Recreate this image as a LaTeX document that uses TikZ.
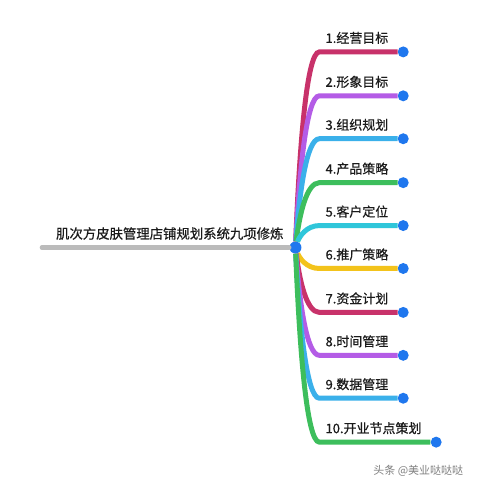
\documentclass[tikz,border=0pt]{standalone}
\usepackage{fontspec}
\newfontfamily\cjk[FakeBold=0.6]{Noto Sans CJK SC}
\newfontfamily\cjklight{Noto Sans CJK SC}
\definecolor{crim}{HTML}{C8326A}
\definecolor{violet}{HTML}{B45CE6}
\definecolor{sky}{HTML}{3AB0EA}
\definecolor{leafgreen}{HTML}{3DBE5C}
\definecolor{aqua}{HTML}{2FC6DA}
\definecolor{gold}{HTML}{F3C31B}
\definecolor{dotblue}{HTML}{1F77EE}
\definecolor{stem}{HTML}{BBBBBB}
\definecolor{ink}{HTML}{1A1A1A}

\begin{document}
\begin{tikzpicture}[x=1pt,y=-1pt,
                   branch/.style={line width=5pt,line cap=butt},
                   enddot/.style={circle,fill=dotblue,inner sep=0pt,minimum size=11pt},
                   leaf/.style={anchor=west,inner sep=0pt,text=ink,
                   font=\cjk\fontsize{13}{15}\selectfont}]
  \fill[white] (0,0) rectangle (480,480);
  \node[enddot,minimum size=12pt] (root) at (296,248) {};
  \coordinate (tail) at (42,248);
  \node[leaf,font=\cjk\fontsize{13.4}{15}\selectfont] (title) at (56,234) {肌次方皮肤管理店铺规划系统九项修炼};
  \draw[branch,stem,line width=4.5pt,line cap=round] (tail) -- (root);
  \foreach \i/\y/\col/\txt/\x in {1/52/crim/经营目标/404, 2/96/violet/形象目标/404,
      3/139/sky/组织规划/404, 4/183/leafgreen/产品策略/404, 5/226/aqua/客户定位/404,
      6/269/gold/推广策略/404, 7/313/crim/资金计划/404, 8/356/violet/时间管理/404,
      9/399/sky/数据管理/404, 10/443/leafgreen/开业节点策划/437}{
    \coordinate (c\i) at (320,\y);
    \node[enddot] (b\i) at (\x,\y) {};
    \node[leaf] (l\i) at (326,\y-14) {\i.\txt};
    \draw[branch,\col] (root) .. controls (300,{(248+\y)/2}) and (307,\y) .. (c\i) -- (b\i.west);
  }
  \node[text=gray,font=\cjklight\fontsize{11}{13}\selectfont] (mark) at (419,472) {头条 @美业哒哒哒};
\end{tikzpicture}
\end{document}
